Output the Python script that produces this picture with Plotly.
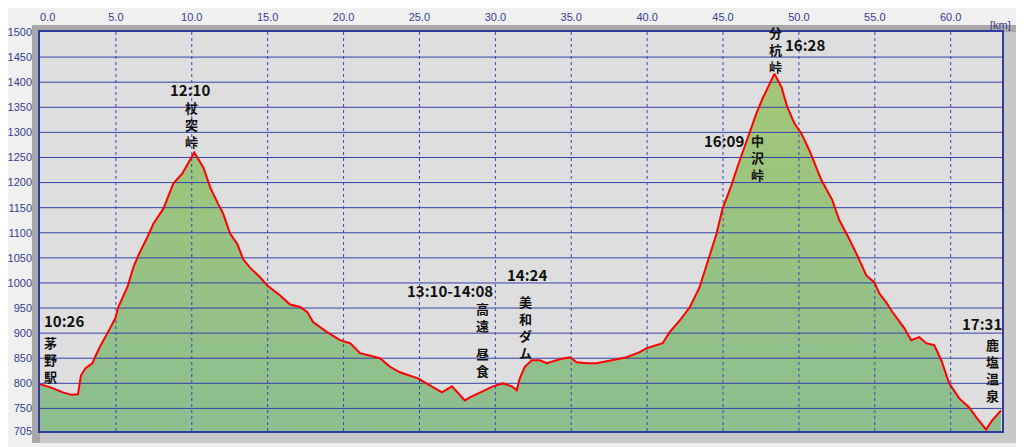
import plotly.graph_objects as go

# elevation profile: distance [km] / elevation [m]
km = [0.0, 0.7, 1.5, 2.1, 2.5, 2.6, 2.7, 3.0, 3.45, 3.65, 4.0, 4.44, 4.97, 5.16,
      5.76, 6.15, 6.48, 7.07, 7.47, 8.13, 8.78, 9.38, 9.77, 10.16, 10.76, 11.22,
      11.74, 12.07, 12.53, 12.99, 13.39, 13.85, 14.51, 14.97, 15.82, 16.48, 17.14,
      17.6, 17.99, 18.91, 19.77, 20.43, 21.08, 22.4, 23.06, 23.72, 24.9, 25.69,
      26.48, 27.14, 27.53, 27.99, 28.32, 28.98, 29.84, 30.49, 31.09, 31.41, 31.61,
      31.94, 32.4, 32.93, 33.39, 34.24, 34.9, 35.36, 36.02, 36.68, 37.73, 38.65,
      39.51, 39.97, 41.02, 41.48, 42.14, 42.8, 43.45, 43.98, 44.57, 44.97, 45.56,
      45.95, 46.74, 47.2, 47.6, 48.06, 48.39, 48.85, 49.24, 49.7, 50.16, 50.69,
      51.48, 52.2, 52.66, 53.19, 53.78, 54.44, 54.97, 55.3, 55.76, 56.09, 56.61,
      56.94, 57.4, 57.93, 58.39, 58.91, 59.38, 59.9, 60.56, 61.22, 61.74, 62.33,
      62.73, 63.32]
elev = [798, 792, 782, 777, 778, 798, 816, 830, 840, 854, 876, 900, 930, 952,
        992, 1031, 1055, 1091, 1118, 1148, 1198, 1218, 1240, 1260, 1230, 1190,
        1157, 1138, 1098, 1078, 1047, 1030, 1011, 995, 975, 957, 952,
        942, 922, 902, 886, 880, 860, 850, 833, 822, 810, 796,
        782, 794, 782, 766, 772, 782, 794, 800, 794, 786, 810,
        833, 846, 846, 840, 848, 852, 842, 840, 840, 846, 852,
        862, 870, 880, 902, 925, 951, 991, 1041, 1098, 1148, 1195,
        1231, 1298, 1338, 1367, 1397, 1417, 1390, 1350, 1318, 1298, 1264,
        1205, 1165, 1125, 1095, 1059, 1015, 1001, 979, 961, 945, 922,
        910, 886, 892, 880, 876, 846, 800, 770, 752, 730, 708,
        726, 746]

x_ticks = [0, 5, 10, 15, 20, 25, 30, 35, 40, 45, 50, 55, 60]
y_ticks = [705] + list(range(750, 1501, 50))
x_max = 63.38

# arrival times and place names (names are written top to bottom)
times = [("12:10", 9.91, 1386, "center"), ("10:26", 0.16, 926, "left"),
         ("13:10-14:08", 27.03, 985, "center"), ("14:24", 32.1, 1017, "center"),
         ("16:28", 50.41, 1477, "center"), ("16:09", 45.07, 1284, "center"),
         ("17:31", 62.06, 920, "center")]
places = [("杖突峠", 9.98, 1315), ("茅野駅", 0.69, 848), ("高遠", 29.14, 932),
          ("昼食", 29.14, 842), ("美和ダム", 31.97, 912), ("分杭峠", 48.43, 1465),
          ("中沢峠", 47.25, 1250), ("鹿塩温泉", 62.78, 827)]

fig = go.Figure()

fig.add_trace(go.Scatter(
    x=km, y=elev, mode='none', fill='tozeroy',
    fillgradient=dict(type='vertical', start=705, stop=1420,
                      colorscale=[[0, '#8dbe90'], [1, '#a3c776']]),
    hoverinfo='skip'))

# grid drawn over the fill, under the red line
gx, gy = [], []
for v in y_ticks[1:-1]:
    gx += [0, x_max, None]
    gy += [v, v, None]
fig.add_trace(go.Scatter(x=gx, y=gy, mode='lines', hoverinfo='skip',
                         line=dict(color='#3343a8', width=1)))
vx, vy = [], []
for v in x_ticks[1:]:
    vx += [v, v, None]
    vy += [705, 1500, None]
fig.add_trace(go.Scatter(x=vx, y=vy, mode='lines', hoverinfo='skip',
                         line=dict(color='#3a48b8', width=1, dash='dot')))

fig.add_trace(go.Scatter(x=km, y=elev, mode='lines',
                         line=dict(color='#ff0000', width=2)))

time_font = dict(family='Noto Sans CJK JP', size=15, color='#111111')
name_font = dict(family='Noto Sans CJK JP', size=13, color='#111111')
for text, x, y, anchor in times:
    fig.add_annotation(x=x, y=y, text='<b>%s</b>' % text, showarrow=False,
                       xanchor=anchor, height=14, font=time_font)
for name, x, y in places:
    fig.add_annotation(x=x, y=y, text='<br>'.join('<b>%s</b>' % c for c in name),
                       showarrow=False, font=name_font)

tick_font = dict(family='Liberation Sans Narrow, Liberation Sans', size=11,
                 color='#34418f')
fig.add_annotation(xref='paper', yref='paper', x=1.0114, y=1.0368, text='[km]',
                   showarrow=False, font=tick_font)

# grey bevelled frame around the plot area
frame = [(-0.0083, 1.0229, 1.0, 1.0175, '#a8a8a8'),
         (-0.0083, 0.0, -0.0301, 1.0175, '#a8a8a8'),
         (1.0, 1.0229, -0.0301, 1.0, '#c8c8c8'),
         (0.0, 1.0, -0.0301, 0.0, '#c8c8c8')]
for x0, x1, y0, y1, c in frame:
    fig.add_shape(type='rect', xref='paper', yref='paper', x0=x0, x1=x1,
                  y0=y0, y1=y1, fillcolor=c, line_width=0, layer='below')

# the page puts the figure 8 px in from the top-left corner
fig.update_layout(
    width=1016,
    height=439,
    margin=dict(l=32, r=22, t=24, b=16),
    paper_bgcolor='#f0f0f0',
    plot_bgcolor='#dedede',
    showlegend=False,
    xaxis=dict(
        range=[0, x_max], side='top', tickvals=x_ticks, automargin=False,
        ticktext=['\u00a0' * 5 + '0.0'] + ['%.1f' % v for v in x_ticks[1:]],
        showgrid=False, zeroline=False, showline=True, mirror=True,
        linecolor='#2e3aa0', linewidth=1.5, ticks='outside', ticklen=5,
        tickcolor='rgba(0,0,0,0)', tickfont=tick_font
    ),
    yaxis=dict(
        range=[705, 1500], tickvals=y_ticks, automargin=False,
        showgrid=False, zeroline=False, showline=True, mirror=True,
        linecolor='#2e3aa0', linewidth=1.5, ticks='outside', ticklen=4,
        tickcolor='rgba(0,0,0,0)', tickfont=tick_font
    ),
)

fig.write_html("out.html")
